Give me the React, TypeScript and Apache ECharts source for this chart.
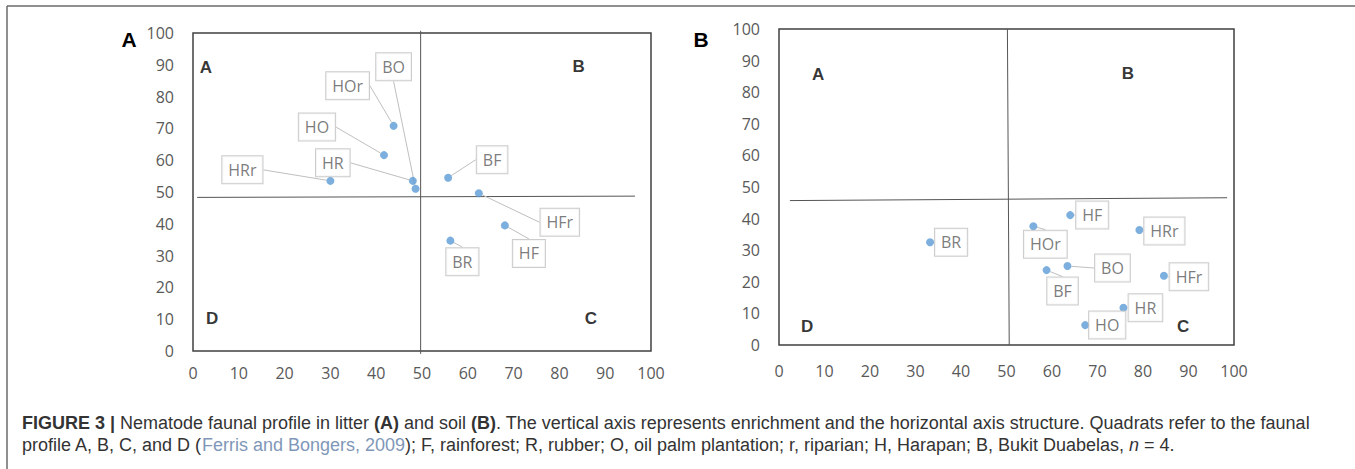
import React, { useEffect, useRef } from "react";
import * as echarts from "echarts";

// ---- Data: litter (A) ----
const litterNames = ["HRr", "HR", "BO", "HO", "HOr", "BF", "HFr", "HF", "BR"];
const litterStructure = [30.0, 48.0, 48.6, 41.7, 43.8, 55.7, 62.4, 68.1, 56.2];
const litterEnrichment = [53.5, 53.5, 51.0, 61.6, 70.8, 54.5, 49.6, 39.5, 34.7];

// ---- Data: soil (B) ----
const soilNames = ["BR", "HF", "HOr", "BO", "BF", "HO", "HR", "HRr", "HFr"];
const soilStructure = [33.2, 64.0, 55.9, 63.4, 58.8, 67.3, 75.7, 79.2, 84.6];
const soilEnrichment = [32.5, 41.1, 37.6, 25.0, 23.7, 6.3, 11.8, 36.4, 21.9];

// quadrant divider lines (data coordinates)
const litterHLine = [[0.9, 48.3], [96.5, 48.7]];
const litterVLine = [[49.7, 100.7], [49.7, -0.9]];
const soilHLine = [[2.4, 45.7], [98.5, 46.6]];
const soilVLine = [[50.2, 100], [50.6, 0]];

// quadrant letters
const quadrantLetters = ["A", "B", "C", "D"];
const litterLetterPos = [[2.8, 89.3], [84.2, 89.6], [86.9, 10.1], [4.2, 10.1]];
const soilLetterPos = [[8.6, 85.7], [76.7, 86.0], [88.8, 5.7], [6.2, 6.0]];

// axis ticks
const axisMin = 0;
const axisMax = 100;
const axisStep = 10;

// label callout offsets (pixels, layout only)
const litterLabelOffsets = [[-88, -11], [-80, -18], [-22, -122], [-67, -28], [-46, -40], [44, -18], [81, 29], [24, 28], [12, 21]];
const soilLabelOffsets = [[21, 0], [22, 0], [12, 18], [45, 2], [16, 21], [22, 0], [22, 0], [25, 1], [25, 1]];

const captionLine1 =
  "{b|FIGURE 3 |} Nematode faunal profile in litter {b|(A)} and soil {b|(B)}. The vertical axis represents enrichment and the horizontal axis structure. Quadrats refer to the faunal";
const captionLine2 =
  "profile A, B, C, and D ({l|Ferris and Bongers, 2009}); F, rainforest; R, rubber; O, oil palm plantation; r, riparian; H, Harapan; B, Bukit Duabelas, {i|n} = 4.";

const FONT = "'Open Sans', sans-serif";
const GREY = "#595959";

function axisPair(gridIndex: number, xMargin: number) {
  const common = {
    type: "value" as const,
    gridIndex,
    min: axisMin,
    max: axisMax,
    interval: axisStep,
    axisLine: { show: false },
    axisTick: { show: false },
    splitLine: { show: false },
  };
  return {
    x: { ...common, axisLabel: { color: GREY, fontSize: 16, fontFamily: FONT, margin: xMargin } },
    y: { ...common, axisLabel: { color: GREY, fontSize: 16, fontFamily: FONT, margin: 19 } },
  };
}

function pointSeries(idx: number, names: string[], xs: number[], ys: number[], offsets: number[][]) {
  return {
    type: "scatter",
    xAxisIndex: idx,
    yAxisIndex: idx,
    symbolSize: 8,
    itemStyle: { color: "#5b9bd5" },
    silent: true,
    data: names.map((n, i) => ({ name: n, value: [xs[i], ys[i]] })),
    label: {
      show: true,
      position: "inside",
      formatter: "{b}",
      color: GREY,
      fontSize: 16,
      fontFamily: FONT,
      lineHeight: 18,
      backgroundColor: "#ffffff",
      borderColor: "#bfbfbf",
      borderWidth: 1,
      padding: [5, 6, 4, 6],
    },
    labelLine: { show: true, lineStyle: { color: "#bfbfbf", width: 1 } },
    labelLayout: (p: any) => ({ dx: offsets[p.dataIndex][0], dy: offsets[p.dataIndex][1] }),
    z: 5,
  };
}

function lineSeries(idx: number, pts: number[][]) {
  return {
    type: "line",
    xAxisIndex: idx,
    yAxisIndex: idx,
    data: pts,
    symbol: "none",
    clip: false,
    silent: true,
    lineStyle: { color: "#555555", width: 1 },
    z: 2,
  };
}

function letterSeries(idx: number, pos: number[][]) {
  return {
    type: "scatter",
    xAxisIndex: idx,
    yAxisIndex: idx,
    symbolSize: 0,
    silent: true,
    data: quadrantLetters.map((l, i) => ({ name: l, value: pos[i] })),
    label: {
      show: true,
      position: "inside",
      formatter: "{b}",
      color: "#000",
      fontSize: 17,
      fontWeight: "bold",
      fontFamily: "'Liberation Sans', Arial, sans-serif",
    },
  };
}

export default function App() {
  const ref = useRef<HTMLDivElement>(null);
  useEffect(() => {
    if (!ref.current) return;
    const chart = echarts.init(ref.current, undefined, { renderer: "svg" });
    const a0 = axisPair(0, 14);
    const a1 = axisPair(1, 18);
    const capFont = "'Liberation Sans', Arial, sans-serif";
    const CS = 19;
    const capStyle = (text: string) => ({
      text,
      fill: "#333333",
      fontSize: CS,
      fontFamily: capFont,
      rich: {
        b: { fontWeight: "bold", fontSize: CS, fontFamily: capFont, fill: "#333333" },
        l: { fontSize: CS, fontFamily: capFont, fill: "#7f97b8" },
        i: { fontStyle: "italic", fontSize: CS, fontFamily: capFont, fill: "#333333" },
      },
    });
    chart.setOption({
      animation: false,
      backgroundColor: "#ffffff",
      grid: [
        { left: 193, top: 33, width: 458, height: 318, show: true, borderColor: "#404040", borderWidth: 1.5, backgroundColor: "transparent" },
        { left: 779, top: 29, width: 455, height: 316, show: true, borderColor: "#404040", borderWidth: 1.5, backgroundColor: "transparent" },
      ],
      xAxis: [a0.x, a1.x],
      yAxis: [a0.y, a1.y],
      series: [
        lineSeries(0, litterHLine),
        lineSeries(0, litterVLine),
        lineSeries(1, soilHLine),
        lineSeries(1, soilVLine),
        letterSeries(0, litterLetterPos),
        letterSeries(1, soilLetterPos),
        pointSeries(0, litterNames, litterStructure, litterEnrichment, litterLabelOffsets),
        pointSeries(1, soilNames, soilStructure, soilEnrichment, soilLabelOffsets),
      ],
      graphic: [
        { type: "line", shape: { x1: 7, y1: 6, x2: 1355, y2: 6 }, style: { stroke: "#6b6b6b", lineWidth: 1.5 }, silent: true },
        { type: "line", shape: { x1: 7, y1: 6, x2: 7, y2: 469 }, style: { stroke: "#6b6b6b", lineWidth: 1.5 }, silent: true },
        { type: "text", x: 129, y: 39, style: { text: "A", fill: "#000", fontSize: 21, fontWeight: "bold", fontFamily: capFont, align: "center", verticalAlign: "middle" }, silent: true },
        { type: "text", x: 701, y: 39, style: { text: "B", fill: "#000", fontSize: 21, fontWeight: "bold", fontFamily: capFont, align: "center", verticalAlign: "middle" }, silent: true },
        { type: "text", x: 22, y: 413, scaleX: 0.947, style: capStyle(captionLine1), silent: true },
        { type: "text", x: 22, y: 435, scaleX: 0.947, style: capStyle(captionLine2), silent: true },
      ],
    });
    return () => chart.dispose();
  }, []);
  return (
    <div
      ref={ref}
      style={{ position: "fixed", left: 0, top: 0, width: 1355, height: 469, background: "#fff" }}
    />
  );
}
